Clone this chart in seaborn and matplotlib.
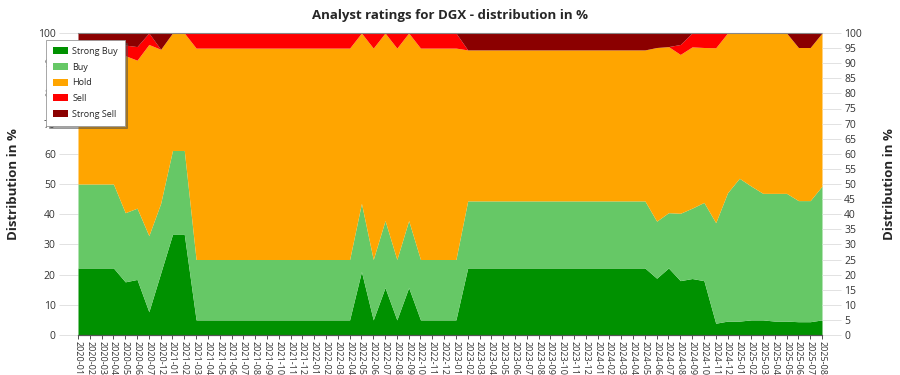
import matplotlib
matplotlib.use("Agg")
import matplotlib.pyplot as plt
import seaborn as sns
import numpy as np

months = (["2020-01", "2020-02", "2020-03", "2020-04", "2020-05", "2020-06", "2020-07", "2020-12"]
          + [f"2021-{m:02d}" for m in range(1, 13)]
          + [f"2022-{m:02d}" for m in range(1, 13)]
          + [f"2023-{m:02d}" for m in range(1, 13)]
          + [f"2024-{m:02d}" for m in range(1, 13)]
          + [f"2025-{m:02d}" for m in range(1, 9)])

strong_buy = ([22.2, 22.2, 22.2, 22.2, 17.6, 18.4, 7.7, 20.5, 33.3, 33.3]
              + [5.0] * 14
              + [21.0, 5.0, 15.7, 5.0, 15.7, 5.0, 5.0, 5.0, 5.0]
              + [22.2] * 16
              + [18.8, 22.2, 18.0, 18.7, 18.0, 3.9, 4.6, 4.6, 5.0, 5.0, 4.6, 4.6, 4.4, 4.4, 5.0])
buy = ([27.8, 27.8, 27.8, 27.8, 22.9, 23.6, 25.2, 23.1, 27.8, 27.8]
       + [20.0] * 14
       + [22.6, 20.0, 22.2, 20.0, 22.2, 20.0, 20.0, 20.0, 20.0]
       + [22.2] * 16
       + [18.9, 18.3, 22.3, 23.3, 25.9, 33.3, 42.5, 47.3, 44.3, 41.9, 42.3, 42.3, 40.1, 40.1, 44.3])
hold = ([44.4, 44.4, 44.4, 44.4, 52.0, 49.0, 63.3, 51.0, 38.9, 38.9]
        + [70.0] * 14
        + [56.4, 70.0, 62.1, 70.0, 62.1, 70.0, 70.0, 70.0, 70.0]
        + [50.0] * 16
        + [57.5, 55.0, 52.6, 53.4, 51.3, 57.9, 52.9, 48.1, 50.7, 53.1, 53.1, 53.1, 50.7, 50.7, 50.7])
sell = ([0.0, 0.0, 0.0, 0.0, 3.5, 4.5, 3.8, 0.0, 0.0, 0.0]
        + [5.0] * 14
        + [0.0, 5.0, 0.0, 5.0, 0.0, 5.0, 5.0, 5.0, 5.0]
        + [0.0] * 16
        + [0.0, 0.0, 3.3, 4.6, 4.8, 4.9, 0.0, 0.0, 0.0, 0.0, 0.0, 0.0, 0.0, 0.0, 0.0])
strong_sell = ([5.6, 5.6, 5.6, 5.6, 4.0, 4.5, 0.0, 5.4, 0.0, 0.0]
               + [0.0] * 14
               + [0.0] * 9
               + [5.6] * 16
               + [4.8, 4.5, 3.8, 0.0, 0.0, 0.0, 0.0, 0.0, 0.0, 0.0, 0.0, 0.0, 4.8, 4.8, 0.0])

series_names = ["Strong Buy", "Buy", "Hold", "Sell", "Strong Sell"]
colors = ["#009100", "#66C866", "#FFA500", "#FF0000", "#8B0000"]

sns.set_theme(style="white")
plt.rcParams["font.family"] = ["Open Sans", "DejaVu Sans"]

fig = plt.figure(figsize=(9, 3.75), dpi=100)
ax = fig.add_axes([78 / 900, 1 - 335 / 375, (822 - 78) / 900, (335 - 33) / 375])

x = np.arange(len(months))
ax.stackplot(x, strong_buy, buy, hold, sell, strong_sell, colors=colors,
             labels=series_names, linewidth=0)

ax.set_xlim(0, len(months) - 1)
ax.set_ylim(0, 100)
ax.set_xticks(x)
ax.set_xticklabels(months, rotation=-90, fontsize=6.5, color="#333333")
ax.tick_params(axis="x", length=3, width=0.6, color="#333333", pad=1, bottom=True)
ax.set_yticks(np.arange(0, 101, 10))
ax.tick_params(axis="y", labelsize=7.5, length=14, width=0.6, color="#dddddd",
               labelcolor="#333333", left=True, pad=2)

ax2 = ax.twinx()
ax2.set_ylim(0, 100)
ax2.set_yticks(np.arange(0, 101, 5))
ax2.tick_params(axis="y", labelsize=7.5, length=14, width=0.6, color="#dddddd",
                labelcolor="#333333", right=True, pad=2)

for a in (ax, ax2):
    for side in ("top", "right", "left"):
        a.spines[side].set_visible(False)
    a.spines["bottom"].set_color("#555555")
    a.spines["bottom"].set_linewidth(0.8)
ax.spines["top"].set_visible(True)
ax.spines["top"].set_color("#888888")
ax.spines["top"].set_linewidth(0.8)

ax.set_ylabel("Distribution in %", fontsize=9.5, fontweight="bold", labelpad=13)
ax2.set_ylabel("Distribution in %", fontsize=9.5, fontweight="bold", labelpad=15, rotation=90)

fig.suptitle("Analyst ratings for DGX - distribution in %", fontsize=9.5,
             fontweight="bold", y=0.975, x=0.5)

handles, labels = ax.get_legend_handles_labels()
leg = fig.legend(handles, labels, loc="upper left", bbox_to_anchor=(46 / 900, 1 - 40 / 375),
                 borderaxespad=0, fontsize=6.5, frameon=True, fancybox=False, shadow=True,
                 handlelength=1.7, handleheight=0.8, borderpad=0.75, labelspacing=0.75,
                 handletextpad=0.45)
leg.get_frame().set_edgecolor("#999999")
leg.get_frame().set_linewidth(0.6)
leg.set_zorder(10)

fig.savefig("out.png", dpi=100)
